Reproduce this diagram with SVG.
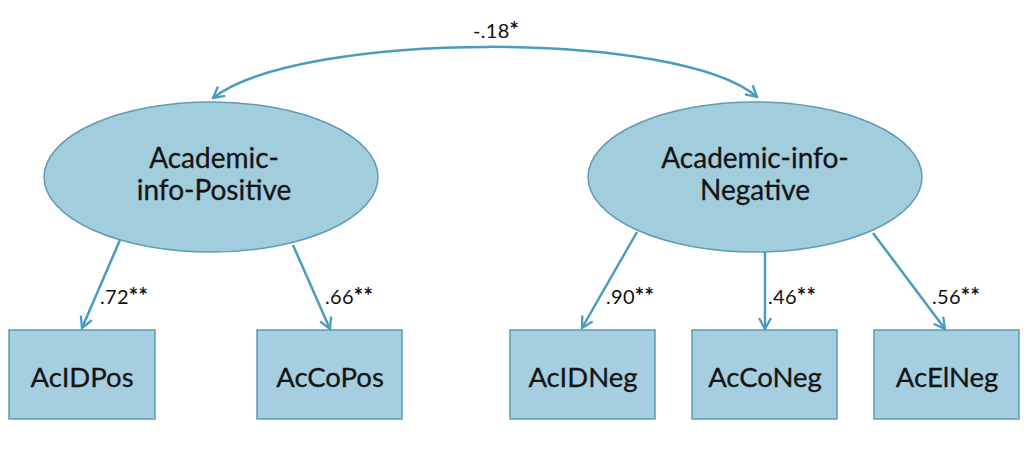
<svg xmlns="http://www.w3.org/2000/svg" width="1030" height="452" viewBox="0 0 1030 452">
  <style>
    .latent { fill: #a2cddd; stroke: #5d9bb7; stroke-width: 1.5; }
    .obs { fill: #a5cfe0; stroke: #5d9bb7; stroke-width: 1.5; }
    .name { font-family: Lato, "Liberation Sans", sans-serif; font-size: 28px; fill: #151515; text-anchor: middle; stroke: #151515; stroke-width: 0.3; }
    .box { font-family: Lato, "Liberation Sans", sans-serif; font-size: 27.5px; fill: #151515; text-anchor: middle; stroke: #151515; stroke-width: 0.3; }
    .coef { font-family: Lato, "Liberation Sans", sans-serif; font-size: 20px; fill: #111; letter-spacing: 0.3px; }
    .star { font-size: 22px; font-weight: bold; }
    .edge { fill: none; stroke: #4a9cbf; stroke-width: 2.5; }
  </style>
  <defs>
    <marker id="vhead" viewBox="0 0 14 14" refX="12" refY="7" markerWidth="14" markerHeight="14" markerUnits="userSpaceOnUse" orient="auto-start-reverse">
      <path d="M1,1 L12,7 L1,13" fill="none" stroke="#4a9cbf" stroke-width="2.3"/>
    </marker>
  </defs>
  <rect width="1030" height="452" fill="#ffffff"/>

  <g id="AcademicInfoPositive">
    <ellipse class="latent" cx="211" cy="177" rx="167" ry="75"/>
    <text class="name" x="214" y="168">Academic-</text>
    <text class="name" x="214" y="200">info-Positive</text>
  </g>
  <g id="AcademicInfoNegative">
    <ellipse class="latent" cx="755" cy="177" rx="167" ry="75"/>
    <text class="name" x="755" y="168">Academic-info-</text>
    <text class="name" x="755" y="200">Negative</text>
  </g>

  <g id="AcIDPos">
    <rect class="obs" x="9" y="330" width="146" height="89"/>
    <text class="box" x="82" y="387">AcIDPos</text>
  </g>
  <g id="AcCoPos">
    <rect class="obs" x="257" y="330" width="145" height="89"/>
    <text class="box" x="330" y="387">AcCoPos</text>
  </g>
  <g id="AcIDNeg">
    <rect class="obs" x="510" y="330" width="145" height="89"/>
    <text class="box" x="583" y="387">AcIDNeg</text>
  </g>
  <g id="AcCoNeg">
    <rect class="obs" x="692" y="330" width="145" height="89"/>
    <text class="box" x="765" y="387">AcCoNeg</text>
  </g>
  <g id="AcElNeg">
    <rect class="obs" x="874" y="330" width="145" height="89"/>
    <text class="box" x="947" y="387">AcElNeg</text>
  </g>

  <g id="connectors">
    <path class="edge" d="M213,98 C300,30 680,30 757,97" marker-start="url(#vhead)" marker-end="url(#vhead)"/>
    <line class="edge" x1="120" y1="240" x2="82" y2="328" marker-end="url(#vhead)"/>
    <line class="edge" x1="293" y1="245" x2="330" y2="329" marker-end="url(#vhead)"/>
    <line class="edge" x1="637" y1="232" x2="582" y2="328" marker-end="url(#vhead)"/>
    <line class="edge" x1="765" y1="252" x2="765" y2="329" marker-end="url(#vhead)"/>
    <line class="edge" x1="873" y1="233" x2="945" y2="329" marker-end="url(#vhead)"/>
    <text class="coef" x="473" y="38">-.18<tspan class="star">*</tspan></text>
    <text class="coef" x="100" y="304">.72<tspan class="star">**</tspan></text>
    <text class="coef" x="325" y="304">.66<tspan class="star">**</tspan></text>
    <text class="coef" x="606" y="304">.90<tspan class="star">**</tspan></text>
    <text class="coef" x="768" y="304">.46<tspan class="star">**</tspan></text>
    <text class="coef" x="932" y="304">.56<tspan class="star">**</tspan></text>
  </g>
</svg>
